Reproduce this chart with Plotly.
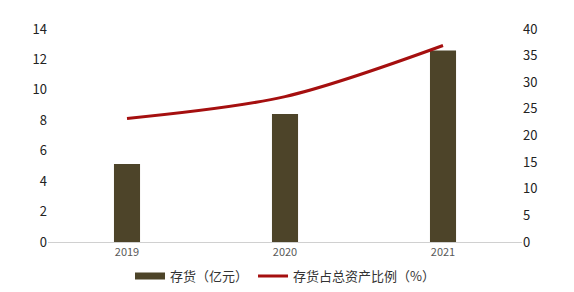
import plotly.graph_objects as go

years = ["2019", "2020", "2021"]
inventory = [5.13, 8.41, 12.58]
ratio = [23.2, 27.3, 36.9]

bar_color = "#4d4429"
line_color = "#a50f0f"

fig = go.Figure()
fig.add_trace(go.Bar(
    x=years, y=inventory, name="存货（亿元）",
    marker=dict(color=bar_color, line=dict(width=0)),
    width=0.165, yaxis="y", showlegend=False,
))
# legend-only entry to mimic a wide rectangular swatch
fig.add_trace(go.Scatter(
    x=[None], y=[None], name="存货（亿元）", mode="lines",
    line=dict(color=bar_color, width=7), yaxis="y",
))
fig.add_trace(go.Scatter(
    x=years, y=ratio, name="存货占总资产比例（%）",
    mode="lines", line=dict(color=line_color, width=3, shape="spline", smoothing=0.9),
    yaxis="y2",
))

font_family = "Noto Sans CJK SC, Noto Sans, sans-serif"
fig.update_layout(
    width=574, height=292,
    margin=dict(l=48, r=52, t=29, b=50, autoexpand=False),
    paper_bgcolor="white", plot_bgcolor="white",
    font=dict(family=font_family, size=12, color="#222222"),
    showlegend=True,
    legend=dict(orientation="h", x=0.5, xanchor="center", y=-0.09, yanchor="top",
                font=dict(size=13, color="#333333"), itemwidth=30,
                traceorder="normal", bgcolor="rgba(0,0,0,0)"),
    xaxis=dict(showline=True, linecolor="#d0d0d0", linewidth=1, showgrid=False,
               ticks="", tickfont=dict(size=11, color="#595959"), fixedrange=True),
    yaxis=dict(range=[0, 14], dtick=2, showgrid=False, zeroline=False, showline=False,
               ticks="", tickfont=dict(size=13, color="#222222")),
    yaxis2=dict(range=[0, 40], dtick=5, overlaying="y", side="right", showgrid=False,
                zeroline=False, showline=False, ticks="",
                tickfont=dict(size=13, color="#222222")),
)

fig.write_html("out.html")
